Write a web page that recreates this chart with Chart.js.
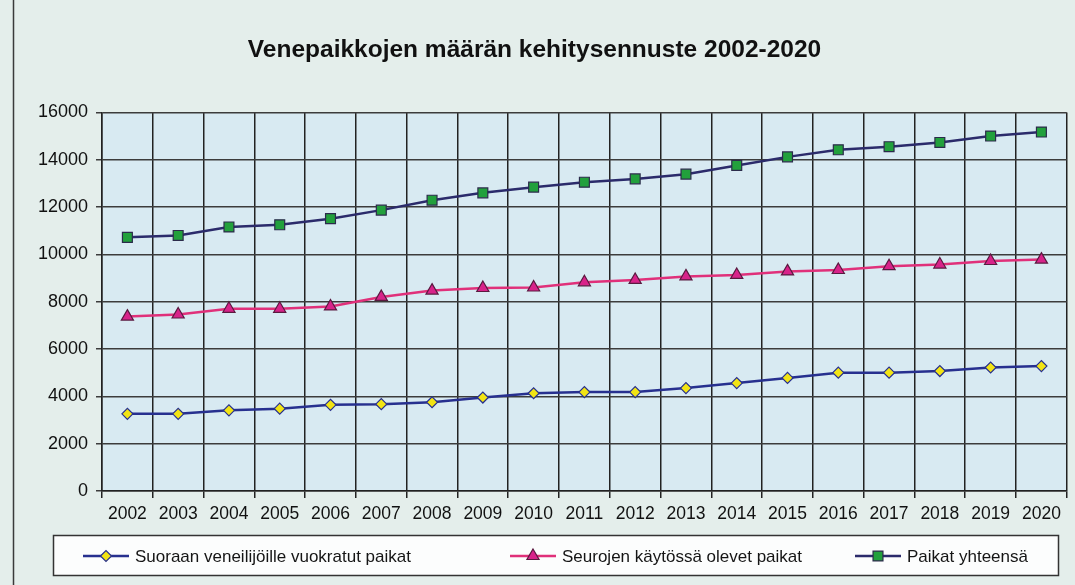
<!DOCTYPE html>
<html>
<head>
<meta charset="utf-8">
<script src="https://cdn.jsdelivr.net/npm/chart.js@4.4.0/dist/chart.umd.min.js"></script>
<style>
  html, body { margin: 0; padding: 0; background: #e4eeeb; }
  #wrap { width: 1075px; height: 585px; }
</style>
</head>
<body>
<div id="wrap"><canvas id="grafica" width="1075" height="585"></canvas></div>
<script>
// vuodet ja sarjat
const vuodet = ['2002', '2003', '2004', '2005', '2006', '2007', '2008', '2009', '2010', '2011',
  '2012', '2013', '2014', '2015', '2016', '2017', '2018', '2019', '2020'];

const suoraan = [3260, 3260, 3410, 3480, 3640, 3670, 3750, 3950, 4130, 4180,
  4180, 4350, 4560, 4780, 5000, 5000, 5070, 5220, 5280];

const seurojen = [7370, 7460, 7700, 7700, 7800, 8200, 8470, 8580, 8600, 8820,
  8920, 9070, 9130, 9280, 9340, 9500, 9570, 9720, 9780];

const yhteensa = [10720, 10800, 11160, 11250, 11510, 11870, 12290, 12600, 12840, 13050,
  13190, 13390, 13760, 14120, 14420, 14550, 14730, 15000, 15170];

const yMax = 16000;
const yStep = 2000;

const fontti = '"Liberation Sans", Arial, sans-serif';

// tausta + kehys
const tausta = {
  id: 'tausta',
  beforeDraw(chart) {
    const ctx = chart.ctx, a = chart.chartArea;
    ctx.save();
    ctx.fillStyle = '#e4eeeb';
    ctx.fillRect(0, 0, chart.width, chart.height);
    ctx.fillStyle = '#d8eaf2';
    ctx.fillRect(a.left, a.top, a.right - a.left, a.bottom - a.top);
    ctx.strokeStyle = '#3a3a3a';
    ctx.lineWidth = 1.5;
    ctx.beginPath();
    ctx.moveTo(13.5, 0);
    ctx.lineTo(13.5, chart.height);
    ctx.stroke();
    ctx.restore();
  }
};

// selite laatikossa
const selite = {
  id: 'selite',
  afterDraw(chart) {
    const ctx = chart.ctx;
    ctx.save();
    ctx.fillStyle = '#fcfdfd';
    ctx.fillRect(53, 535, 1005, 40);
    ctx.strokeStyle = '#333';
    ctx.lineWidth = 1.5;
    ctx.strokeRect(53.5, 535.5, 1005, 40);
    const alut = [83, 510, 855];
    const y = 556;
    chart.data.datasets.forEach((ds, i) => {
      const x = alut[i];
      ctx.strokeStyle = ds.borderColor;
      ctx.lineWidth = ds.borderWidth;
      ctx.beginPath();
      ctx.moveTo(x, y);
      ctx.lineTo(x + 46, y);
      ctx.stroke();
      ctx.fillStyle = ds.pointBackgroundColor;
      ctx.strokeStyle = ds.pointBorderColor;
      ctx.lineWidth = ds.pointBorderWidth;
      Chart.helpers.drawPoint(ctx, {
        pointStyle: ds.pointStyle,
        radius: ds.pointRadius,
        borderWidth: ds.pointBorderWidth,
        rotation: 0
      }, x + 23, y);
      ctx.fillStyle = '#151515';
      ctx.font = '17px ' + fontti;
      ctx.textBaseline = 'middle';
      ctx.textAlign = 'left';
      ctx.fillText(ds.label, x + 52, y + 1);
    });
    ctx.restore();
  }
};

const data = {
  labels: vuodet,
  datasets: [
    {
      label: 'Suoraan veneilijöille vuokratut paikat',
      data: suoraan,
      borderColor: '#27308f',
      borderWidth: 2.5,
      pointStyle: 'rectRot',
      pointRadius: 5.5,
      pointBackgroundColor: '#f2e414',
      pointBorderColor: '#27308f',
      pointBorderWidth: 1.2,
      tension: 0
    },
    {
      label: 'Seurojen käytössä olevet paikat',
      data: seurojen,
      borderColor: '#e0307a',
      borderWidth: 2.5,
      pointStyle: 'triangle',
      pointRadius: 7,
      pointBackgroundColor: '#d8238a',
      pointBorderColor: '#5a1a40',
      pointBorderWidth: 1.2,
      tension: 0
    },
    {
      label: 'Paikat yhteensä',
      data: yhteensa,
      borderColor: '#2b2b6b',
      borderWidth: 2.5,
      pointStyle: 'rect',
      pointRadius: 7,
      pointBackgroundColor: '#22a03c',
      pointBorderColor: '#2b2b4b',
      pointBorderWidth: 1.2,
      tension: 0
    }
  ]
};

const config = {
  type: 'line',
  data: data,
  options: {
    responsive: false,
    animation: false,
    layout: { padding: { left: 0, right: 6, top: 0, bottom: 0 } },
    plugins: {
      legend: { display: false },
      tooltip: { enabled: false },
      title: {
        display: true,
        text: 'Venepaikkojen määrän kehitysennuste 2002-2020',
        color: '#111',
        font: { family: fontti, size: 24.5, weight: 'bold' },
        padding: { top: 36, bottom: 47 }
      }
    },
    scales: {
      x: {
        offset: true,
        grid: { offset: true, color: '#222', lineWidth: 1.5, tickLength: 7, drawTicks: true },
        border: { color: '#222', width: 1.5 },
        ticks: { color: '#111', font: { family: fontti, size: 17.5 }, maxRotation: 0, autoSkip: false, padding: 6 },
        afterFit(s) { s.height = 94; }
      },
      y: {
        min: 0,
        max: yMax,
        grid: { color: '#3c3c3c', lineWidth: 1.5, tickLength: 6 },
        border: { color: '#222', width: 1.5 },
        ticks: {
          stepSize: yStep,
          color: '#111',
          font: { family: fontti, size: 18 },
          padding: 8,
          callback: (v) => String(v)
        },
        afterFit(s) { s.width = 102; }
      }
    }
  },
  plugins: [tausta, selite]
};

new Chart(document.getElementById('grafica'), config);
</script>
</body>
</html>
